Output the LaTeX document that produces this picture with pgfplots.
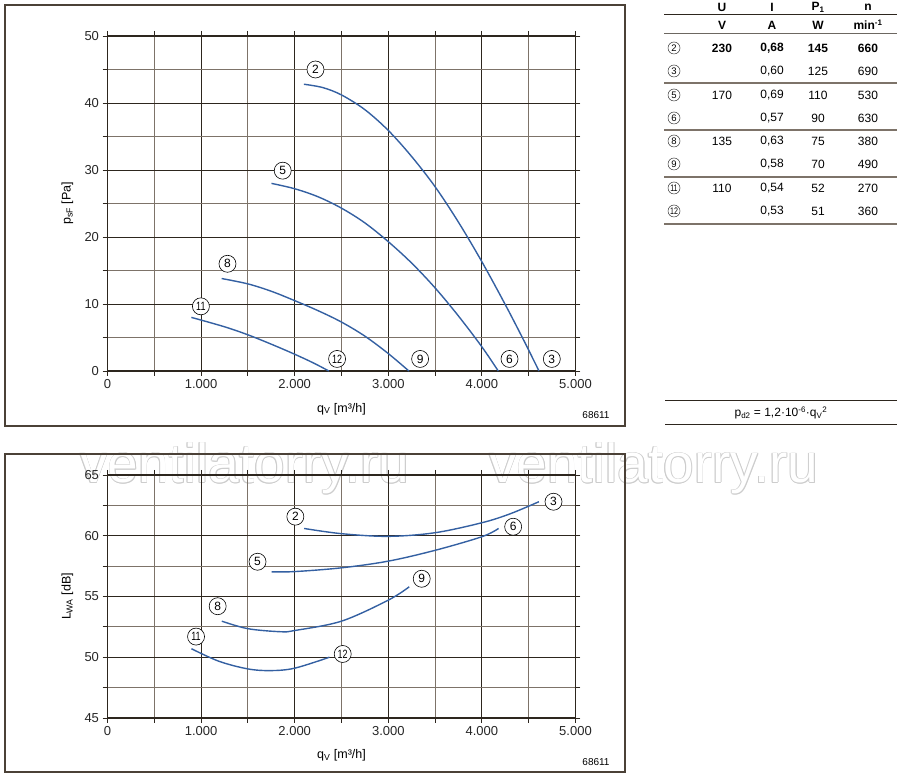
\documentclass[border=0pt]{standalone}
\usepackage{pgfplots}
\pgfplotsset{compat=1.18}
\usepackage{graphicx}
\usepackage{fontspec}
\setmainfont{Liberation Sans}
\definecolor{gridd}{RGB}{45,38,30}
\definecolor{gridm}{RGB}{125,115,105}
\definecolor{curve}{RGB}{52,96,162}
\definecolor{frame}{RGB}{75,65,55}
\definecolor{wm}{RGB}{205,205,205}
\pgfplotsset{
  fanaxis/.style={
    scale only axis, width=468pt, xmin=0, xmax=5000,
    clip=false,
    axis line style={draw=gridd, line width=1.1pt},
    grid=both,
    major grid style={draw=gridd, line width=0.9pt},
    minor grid style={draw=gridm, line width=0.9pt},
    xtick={0,1000,...,5000},
    xticklabels={0,1.000,2.000,3.000,4.000,5.000},
    minor xtick={500,1500,2500,3500,4500},
    tick align=outside,
    major tick length=5pt, minor tick length=5pt,
    tick style={draw=gridd, line width=0.9pt},
    tick label style={font=\fontsize{13}{15}\selectfont, text=black!85},
    /pgf/number format/assume math mode=true,
    label style={font=\fontsize{12.5}{14}\selectfont},
    ylabel style={at={(axis description cs:-0.0855,0.5)}, anchor=center},
  },
}
\tikzset{
  fc/.style={draw=curve, line width=1.4pt, smooth, tension=0.55, mark=none},
  circ/.style={draw=black, circle, line width=0.6pt, inner sep=0pt, minimum size=17pt, font=\fontsize{12}{12}\selectfont, fill=white},
  tcirc/.style={draw=black!80, circle, line width=0.5pt, inner sep=0pt, minimum size=12pt, font=\fontsize{9.5}{9.5}\selectfont}}
\newcommand\tw[1]{\scalebox{0.75}[1]{#1}}
\newcommand\wmark[1]{%
  \foreach \dx/\dy in {0.7/0,-0.7/0,0/0.7,0/-0.7,0.5/0.5,-0.5/0.5,0.5/-0.5,-0.5/-0.5}{%
    \node[anchor=base west, inner sep=0pt, text=wm, font=\fontsize{55}{55}\selectfont] at ([xshift=\dx pt,yshift=\dy pt]#1) {ventilatorry.ru};}%
  \node[anchor=base west, inner sep=0pt, text=white, font=\fontsize{55}{55}\selectfont] at (#1) {ventilatorry.ru};}
\begin{document}
\begin{tikzpicture}
\path[use as bounding box] (0pt,0pt) rectangle (900pt,776pt);
% watermark (behind the chart)
\wmark{80pt,293pt}
\wmark{489pt,293pt}
% frames
\draw[frame, line width=1.4pt] (5pt,771pt) rectangle (625pt,350pt);
\draw[frame, line width=1.4pt] (5pt,322pt) rectangle (625pt,4pt);

\begin{axis}[fanaxis, at={(107.5pt,405pt)}, anchor=south west, height=335pt,
  ymin=0, ymax=50, ytick={0,10,...,50}, minor ytick={5,15,...,45},
  xlabel style={at={(axis description cs:0.5,-0.113)}, anchor=center},
  xlabel={q\textsubscript{V} [m³/h]}, ylabel={p\textsubscript{sF} [Pa]}]
\addplot[fc] coordinates {(2098,42.8) (2300,42.3) (2500,41.2) (2750,39.0) (3000,35.9) (3250,32.0) (3500,27.5) (3750,22.2) (4000,16.3) (4250,9.9) (4450,4.5) (4610,0)};
\addplot[fc] coordinates {(1752,28.0) (2000,27.2) (2250,26.0) (2500,24.3) (2750,22.1) (3000,19.3) (3250,16.1) (3500,12.4) (3750,8.2) (4000,3.6) (4175,0)};
\addplot[fc] coordinates {(1220,13.8) (1500,13.0) (1750,11.9) (2000,10.5) (2250,9.0) (2500,7.3) (2750,5.2) (3000,2.6) (3220,0)};
\addplot[fc] coordinates {(896,8.0) (1250,6.6) (1500,5.4) (1750,4.0) (2000,2.5) (2200,1.2) (2365,0)};
\node[circ] at (axis cs:2222,45) {2};
\node[circ] at (axis cs:1872,29.9) {5};
\node[circ] at (axis cs:1282,16) {8};
\node[circ] at (axis cs:998,9.65) {\tw{11}};
\node[circ] at (axis cs:2453,1.8) {\tw{12}};
\node[circ] at (axis cs:3340,1.8) {9};
\node[circ] at (axis cs:4295,1.8) {6};
\node[circ] at (axis cs:4747,1.8) {3};
\end{axis}

\begin{axis}[fanaxis, at={(107.5pt,58pt)}, anchor=south west, height=243pt,
  ymin=45, ymax=65, ytick={45,50,...,65}, minor ytick={47.5,52.5,57.5,62.5},
  xlabel style={at={(axis description cs:0.5,-0.152)}, anchor=center},
  xlabel={q\textsubscript{V} [m³/h]}, ylabel={L\textsubscript{WA} [dB]}]
\addplot[fc] coordinates {(2100,60.6) (2500,60.17) (3000,59.95) (3500,60.25) (4000,61.07) (4300,61.8) (4609,62.8)};
\addplot[fc] coordinates {(1754,57.03) (2000,57.05) (2500,57.36) (3000,57.91) (3500,58.8) (4000,59.92) (4178,60.6)};
\addplot[fc] coordinates {(1221,52.97) (1500,52.35) (1850,52.1) (2000,52.2) (2500,52.97) (3000,54.7) (3224,55.8)};
\addplot[fc] coordinates {(897,50.7) (1190,49.67) (1500,49.04) (1745,48.9) (2000,49.1) (2371,50.0)};
\node[circ] at (axis cs:2007,61.57) {2};
\node[circ] at (axis cs:4765,62.8) {3};
\node[circ] at (axis cs:4334,60.74) {6};
\node[circ] at (axis cs:1603,57.86) {5};
\node[circ] at (axis cs:3357,56.46) {9};
\node[circ] at (axis cs:1177,54.2) {8};
\node[circ] at (axis cs:946,51.7) {\tw{11}};
\node[circ] at (axis cs:2513,50.27) {\tw{12}};
\end{axis}

% code numbers
\node[font=\fontsize{10}{10}\selectfont] at (596pt,361pt) {68611};
\node[font=\fontsize{10}{10}\selectfont] at (596pt,14pt) {68611};

% table
\begin{scope}[font=\fontsize{12}{14}\selectfont]
\draw[gridd, line width=1pt] (664pt,761pt) -- (897pt,761pt);
\draw[gridd!70, line width=1pt] (664pt,742pt) -- (897pt,742pt);
\draw[gridm, line width=1.3pt] (664pt,693pt) -- (897pt,693pt);
\draw[gridm, line width=1.3pt] (664pt,646pt) -- (897pt,646pt);
\draw[gridm, line width=1.3pt] (664pt,599pt) -- (897pt,599pt);
\draw[gridm, line width=1.3pt] (664pt,552pt) -- (897pt,552pt);
\begin{scope}[every node/.style={anchor=center}]
\node[font=\fontsize{12}{14}\selectfont\bfseries] at (722pt,769pt) {U};
\node[font=\fontsize{12}{14}\selectfont\bfseries] at (772pt,769pt) {I};
\node[font=\fontsize{12}{14}\selectfont\bfseries] at (818pt,769pt) {P\textsubscript{1}};
\node[font=\fontsize{12}{14}\selectfont\bfseries] at (868pt,769pt) {n};
\node[font=\fontsize{12}{14}\selectfont\bfseries] at (722pt,751pt) {V};
\node[font=\fontsize{12}{14}\selectfont\bfseries] at (772pt,751pt) {A};
\node[font=\fontsize{12}{14}\selectfont\bfseries] at (818pt,751pt) {W};
\node[font=\fontsize{12}{14}\selectfont\bfseries] at (868pt,751pt) {min\textsuperscript{-1}};
% rows
\node[tcirc] at (674pt,728pt) {2};
\node[font=\fontsize{12}{14}\selectfont\bfseries] at (722pt,728pt) {230};
\node[font=\fontsize{12}{14}\selectfont\bfseries] at (772pt,728pt) {0,68};
\node[font=\fontsize{12}{14}\selectfont\bfseries] at (818pt,728pt) {145};
\node[font=\fontsize{12}{14}\selectfont\bfseries] at (868pt,728pt) {660};
\node[tcirc] at (674pt,705pt) {3};
\node at (772pt,705pt) {0,60};
\node at (818pt,705pt) {125};
\node at (868pt,705pt) {690};
\node[tcirc] at (674pt,681pt) {5};
\node at (722pt,681pt) {170};
\node at (772pt,681pt) {0,69};
\node at (818pt,681pt) {110};
\node at (868pt,681pt) {530};
\node[tcirc] at (674pt,658pt) {6};
\node at (772pt,658pt) {0,57};
\node at (818pt,658pt) {90};
\node at (868pt,658pt) {630};
\node[tcirc] at (674pt,635pt) {8};
\node at (722pt,635pt) {135};
\node at (772pt,635pt) {0,63};
\node at (818pt,635pt) {75};
\node at (868pt,635pt) {380};
\node[tcirc] at (674pt,612pt) {9};
\node at (772pt,612pt) {0,58};
\node at (818pt,612pt) {70};
\node at (868pt,612pt) {490};
\node[tcirc] at (674pt,588pt) {\tw{11}};
\node at (722pt,588pt) {110};
\node at (772pt,588pt) {0,54};
\node at (818pt,588pt) {52};
\node at (868pt,588pt) {270};
\node[tcirc] at (674pt,565pt) {\tw{12}};
\node at (772pt,565pt) {0,53};
\node at (818pt,565pt) {51};
\node at (868pt,565pt) {360};
\end{scope}
% formula
\draw[gridd, line width=1pt] (665pt,375pt) -- (897pt,375pt);
\draw[gridd, line width=1pt] (665pt,351pt) -- (897pt,351pt);
\node at (781pt,363pt) {p\textsubscript{d2} = 1,2·10\textsuperscript{-6}·q\textsubscript{V}\textsuperscript{2}};
\end{scope}
\end{tikzpicture}
\end{document}
